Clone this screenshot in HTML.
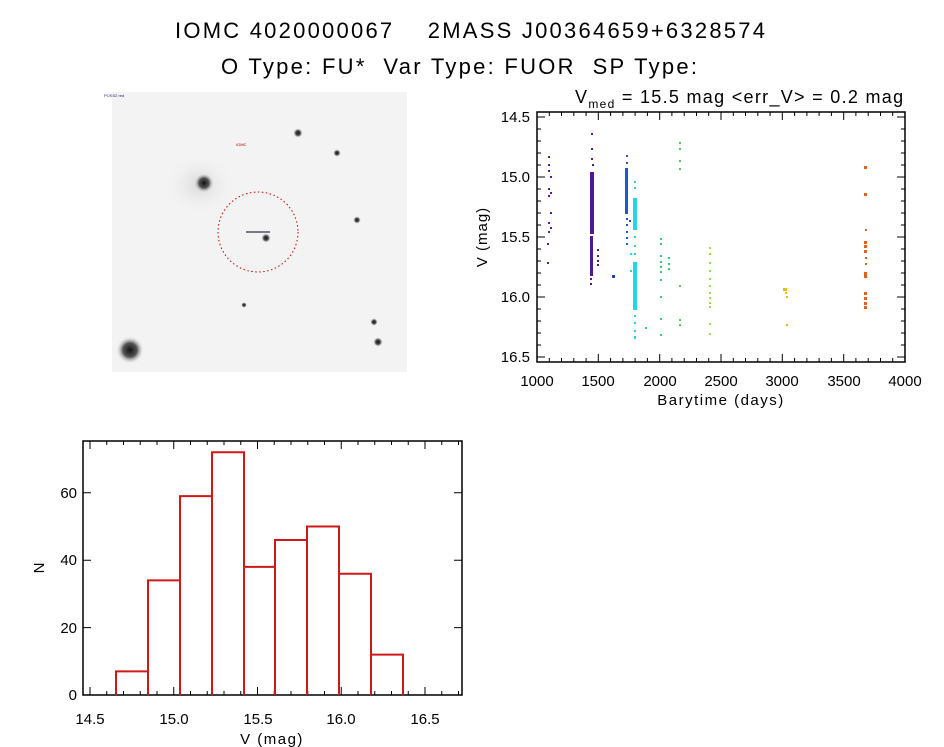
<!DOCTYPE html>
<html><head><meta charset="utf-8"><style>
body{margin:0;background:#fff;}
svg{display:block;font-family:"Liberation Sans",sans-serif;}
</style></head><body>
<svg width="944" height="747" viewBox="0 0 944 747" xmlns="http://www.w3.org/2000/svg">
<rect width="944" height="747" fill="#fff"/>
<text x="175" y="38" font-size="22" textLength="590" lengthAdjust="spacing" xml:space="preserve">IOMC 4020000067    2MASS J00364659+6328574</text>
<text x="221" y="74" font-size="22" textLength="476" lengthAdjust="spacing" xml:space="preserve">O Type: FU*  Var Type: FUOR  SP Type:</text>

<defs>
<radialGradient id="st"><stop offset="0" stop-color="#111"/><stop offset="0.5" stop-color="#555"/><stop offset="1" stop-color="#f2f2f2" stop-opacity="0"/></radialGradient>
<radialGradient id="gl"><stop offset="0" stop-color="#d8d8d8"/><stop offset="1" stop-color="#f2f2f2" stop-opacity="0"/></radialGradient>
</defs>
<rect x="112" y="92" width="295" height="280" fill="#f3f3f3"/>
<ellipse cx="200" cy="185" rx="35" ry="30" fill="url(#gl)"/>
<circle cx="204" cy="183" r="10" fill="url(#st)"/>
<circle cx="130" cy="350" r="14" fill="url(#st)"/>
<circle cx="298" cy="133" r="5" fill="url(#st)"/>
<circle cx="337" cy="153" r="4" fill="url(#st)"/>
<circle cx="357" cy="220" r="4" fill="url(#st)"/>
<circle cx="266" cy="238" r="5" fill="url(#st)"/>
<circle cx="378" cy="342" r="5" fill="url(#st)"/>
<circle cx="374" cy="322" r="4" fill="url(#st)"/>
<circle cx="244" cy="305" r="3" fill="url(#st)"/>
<circle cx="258" cy="232" r="40" fill="none" stroke="#c00" stroke-width="1" stroke-dasharray="1.5,2.5"/>
<line x1="246" y1="232" x2="270" y2="232" stroke="#334" stroke-width="1.2"/>
<text x="104" y="97" font-size="4" fill="#226">POSS2 red</text>
<text x="236" y="146" font-size="4" fill="#a00">IOMC</text>

<text x="575" y="103" font-size="18" letter-spacing="1.3" xml:space="preserve">V<tspan font-size="12" dy="5">med</tspan><tspan dy="-5"> = 15.5 mag &lt;err_V&gt; = 0.2 mag</tspan></text>
<rect x="537" y="112" width="368" height="250" fill="none" stroke="#000" stroke-width="1.5"/>
<path stroke="#000" stroke-width="1" fill="none" d="
M537 362v-8M549.3 362v-4M561.5 362v-4M573.8 362v-4M586.1 362v-4M598.3 362v-8M610.6 362v-4M622.9 362v-4M635.1 362v-4M647.4 362v-4M659.7 362v-8M671.9 362v-4M684.2 362v-4M696.5 362v-4M708.7 362v-4M721 362v-8M733.3 362v-4M745.5 362v-4M757.8 362v-4M770.1 362v-4M782.3 362v-8M794.6 362v-4M806.9 362v-4M819.1 362v-4M831.4 362v-4M843.7 362v-8M855.9 362v-4M868.2 362v-4M880.5 362v-4M892.7 362v-4
M537 112v8M549.3 112v4M561.5 112v4M573.8 112v4M586.1 112v4M598.3 112v8M610.6 112v4M622.9 112v4M635.1 112v4M647.4 112v4M659.7 112v8M671.9 112v4M684.2 112v4M696.5 112v4M708.7 112v4M721 112v8M733.3 112v4M745.5 112v4M757.8 112v4M770.1 112v4M782.3 112v8M794.6 112v4M806.9 112v4M819.1 112v4M831.4 112v4M843.7 112v8M855.9 112v4M868.2 112v4M880.5 112v4M892.7 112v4
M537 117h8M537 129h4M537 141h4M537 153h4M537 165h4M537 177h8M537 189h4M537 201h4M537 213h4M537 225h4M537 237h8M537 249h4M537 261h4M537 273h4M537 285h4M537 297h8M537 309h4M537 321h4M537 333h4M537 345h4M537 357h8
M905 117h-8M905 129h-4M905 141h-4M905 153h-4M905 165h-4M905 177h-8M905 189h-4M905 201h-4M905 213h-4M905 225h-4M905 237h-8M905 249h-4M905 261h-4M905 273h-4M905 285h-4M905 297h-8M905 309h-4M905 321h-4M905 333h-4M905 345h-4M905 357h-8"/>
<g font-size="15" text-anchor="end">
<text x="530" y="122">14.5</text><text x="530" y="182">15.0</text><text x="530" y="242">15.5</text><text x="530" y="302">16.0</text><text x="530" y="362">16.5</text>
</g>
<g font-size="15" text-anchor="middle">
<text x="537" y="386">1000</text><text x="598" y="386">1500</text><text x="660" y="386">2000</text><text x="721" y="386">2500</text><text x="782" y="386">3000</text><text x="844" y="386">3500</text><text x="905" y="386">4000</text>
<text x="721" y="405" letter-spacing="1.5">Barytime (days)</text>
</g>
<text transform="translate(487,237) rotate(-90)" font-size="15" text-anchor="middle" letter-spacing="1">V (mag)</text>

<g fill="#5a1a8c">
<rect x="548" y="156" width="2" height="2"/><rect x="548" y="164" width="2" height="2"/><rect x="548" y="170" width="2" height="2"/><rect x="550" y="176" width="2" height="2"/><rect x="548" y="188" width="2" height="2"/><rect x="550" y="192" width="2" height="2"/><rect x="548" y="195" width="2" height="2"/><rect x="550" y="212" width="2" height="2"/><rect x="548" y="222" width="2" height="2"/><rect x="550" y="227" width="2" height="2"/><rect x="548" y="231" width="2" height="2"/><rect x="547" y="243" width="2" height="2"/><rect x="547" y="262" width="2" height="2"/>
</g>
<g fill="#4a1a98">
<rect x="591" y="133" width="2" height="2"/><rect x="591" y="148" width="2" height="2"/><rect x="591" y="158" width="2" height="2"/><rect x="592" y="164" width="2" height="2"/>
<rect x="590" y="172" width="4" height="62"/>
<rect x="590" y="236" width="3" height="40"/><rect x="590" y="278" width="2" height="2"/><rect x="590" y="283" width="2" height="2"/>
<rect x="597" y="249" width="2" height="2"/><rect x="597" y="255" width="2" height="2"/><rect x="597" y="260" width="2" height="2"/><rect x="597" y="264" width="2" height="2"/>
</g>
<rect x="612" y="275" width="3" height="3" fill="#2040c0"/>
<g fill="#1a5ad0">
<rect x="626" y="155" width="2" height="2"/><rect x="626" y="162" width="2" height="2"/><rect x="625" y="168" width="3" height="46"/><rect x="626" y="218" width="2" height="2"/><rect x="626" y="224" width="2" height="2"/><rect x="626" y="231" width="2" height="2"/><rect x="626" y="237" width="2" height="2"/><rect x="626" y="243" width="2" height="2"/><rect x="629" y="220" width="2" height="2"/>
</g>
<g fill="#22d6e6">
<rect x="634" y="181" width="2" height="2"/><rect x="634" y="187" width="2" height="2"/><rect x="633" y="198" width="4" height="32"/><rect x="634" y="236" width="2" height="2"/><rect x="634" y="245" width="2" height="2"/><rect x="634" y="253" width="2" height="2"/><rect x="633" y="262" width="4" height="48"/><rect x="634" y="315" width="2" height="2"/><rect x="634" y="322" width="2" height="2"/><rect x="634" y="330" width="2" height="2"/><rect x="634" y="336" width="2" height="3"/><rect x="630" y="253" width="2" height="2"/><rect x="630" y="270" width="2" height="2"/>
</g>
<rect x="645" y="327" width="2" height="2" fill="#20d0c0"/>
<g fill="#30d070">
<rect x="660" y="238" width="2" height="2"/><rect x="660" y="243" width="2" height="2"/><rect x="660" y="255" width="2" height="2"/><rect x="660" y="261" width="2" height="2"/><rect x="660" y="266" width="2" height="2"/><rect x="660" y="271" width="2" height="2"/><rect x="660" y="279" width="2" height="2"/><rect x="660" y="296" width="2" height="2"/><rect x="660" y="318" width="2" height="2"/><rect x="660" y="334" width="2" height="2"/>
<rect x="668" y="257" width="2" height="2"/><rect x="668" y="263" width="2" height="2"/><rect x="668" y="268" width="2" height="2"/>
</g>
<g fill="#50d050">
<rect x="679" y="142" width="2" height="2"/><rect x="679" y="148" width="2" height="2"/><rect x="679" y="160" width="2" height="2"/><rect x="679" y="168" width="2" height="2"/><rect x="679" y="285" width="2" height="2"/><rect x="679" y="319" width="2" height="2"/><rect x="679" y="324" width="2" height="2"/>
</g>
<g fill="#a0e040">
<rect x="709" y="247" width="2" height="2"/><rect x="709" y="253" width="2" height="2"/><rect x="709" y="262" width="2" height="2"/><rect x="709" y="270" width="2" height="2"/><rect x="709" y="278" width="2" height="2"/><rect x="709" y="285" width="2" height="2"/><rect x="709" y="292" width="2" height="2"/><rect x="709" y="297" width="2" height="2"/><rect x="709" y="302" width="2" height="2"/><rect x="709" y="306" width="2" height="2"/><rect x="709" y="323" width="2" height="2"/><rect x="709" y="333" width="2" height="2"/>
</g>
<g fill="#e8c000">
<rect x="783" y="288" width="4" height="3"/><rect x="785" y="292" width="2" height="2"/><rect x="786" y="296" width="2" height="2"/><rect x="786" y="324" width="2" height="2"/>
</g>
<g fill="#e06020">
<rect x="864" y="166" width="3" height="3"/><rect x="864" y="193" width="3" height="3"/><rect x="865" y="229" width="2" height="2"/><rect x="864" y="241" width="3" height="3"/><rect x="864" y="245" width="3" height="3"/><rect x="864" y="250" width="3" height="3"/><rect x="865" y="257" width="2" height="2"/><rect x="865" y="263" width="2" height="2"/><rect x="864" y="272" width="3" height="3"/><rect x="864" y="275" width="3" height="3"/><rect x="864" y="292" width="3" height="3"/><rect x="864" y="297" width="3" height="3"/><rect x="864" y="302" width="3" height="3"/><rect x="864" y="306" width="3" height="3"/>
</g>

<rect x="83" y="441" width="379" height="254" fill="none" stroke="#000" stroke-width="1.5"/>
<path stroke="#000" stroke-width="1" fill="none" d="
M90 695v-8M106.75 695v-4M123.5 695v-4M140.25 695v-4M157 695v-4M173.75 695v-8M190.5 695v-4M207.25 695v-4M224 695v-4M240.75 695v-4M257.5 695v-8M274.25 695v-4M291 695v-4M307.75 695v-4M324.5 695v-4M341.25 695v-8M358 695v-4M374.75 695v-4M391.5 695v-4M408.25 695v-4M425 695v-8M441.75 695v-4M458.5 695v-4
M90 441v8M106.75 441v4M123.5 441v4M140.25 441v4M157 441v4M173.75 441v8M190.5 441v4M207.25 441v4M224 441v4M240.75 441v4M257.5 441v8M274.25 441v4M291 441v4M307.75 441v4M324.5 441v4M341.25 441v8M358 441v4M374.75 441v4M391.5 441v4M408.25 441v4M425 441v8M441.75 441v4M458.5 441v4
M83 695h8M83 627.6h8M83 560.2h8M83 492.8h8M462 627.6h-8M462 560.2h-8M462 492.8h-8"/>
<path stroke="#d01818" stroke-width="2" fill="none" d="M116 695V671.4H148V580.4H180V496.1H212V452.3H244V566.9H275V540H307V526.5H339V573.7H371V654.6H403V695M148 695V671.4M180 695V580.4M212 695V496.1M244 695V566.9M275 695V566.9M307 695V540M339 695V573.7M371 695V654.6"/>
<g font-size="15" text-anchor="end">
<text x="77" y="700">0</text><text x="77" y="633">20</text><text x="77" y="565">40</text><text x="77" y="498">60</text>
</g>
<g font-size="15" text-anchor="middle">
<text x="90" y="724">14.5</text><text x="174" y="724">15.0</text><text x="258" y="724">15.5</text><text x="341" y="724">16.0</text><text x="425" y="724">16.5</text>
<text x="272" y="744" letter-spacing="1.5">V (mag)</text>
</g>
<text transform="translate(44,568) rotate(-90)" font-size="15" text-anchor="middle">N</text>
</svg>
</body></html>
